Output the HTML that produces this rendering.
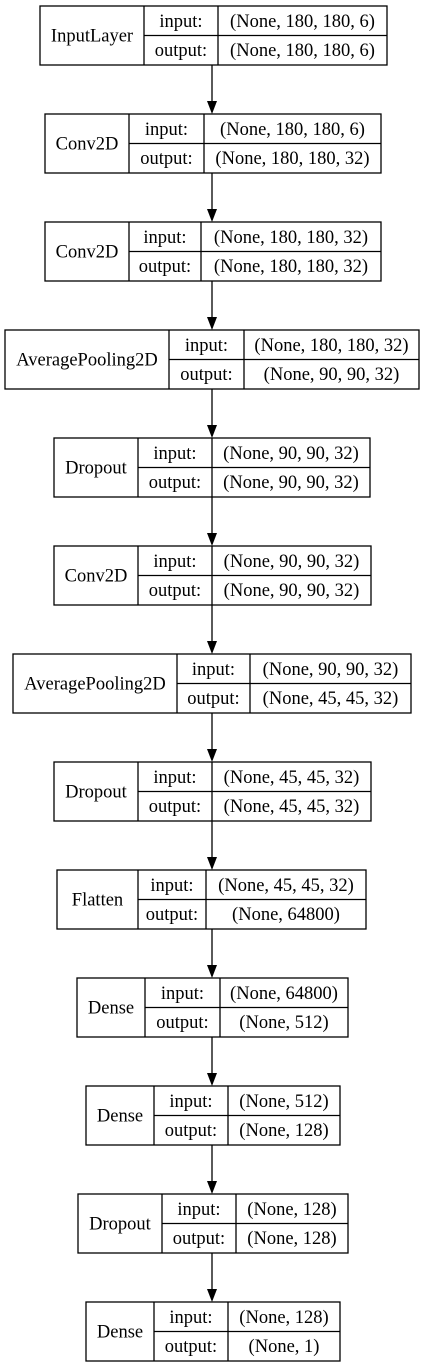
<!DOCTYPE html>
<html><head><meta charset="utf-8"><style>
html,body{margin:0;padding:0;background:#fff;}
svg{display:block;}
text{font-family:"Liberation Serif",serif;font-size:18.5px;fill:#000;}
</style></head><body>
<svg id="g" width="426" height="1367" viewBox="0 0 426 1367">
</svg>
<script>
const layerNames=["InputLayer","Conv2D","Conv2D","AveragePooling2D","Dropout","Conv2D","AveragePooling2D","Dropout","Flatten","Dense","Dense","Dropout","Dense"];
const inputShapes=["(None, 180, 180, 6)","(None, 180, 180, 6)","(None, 180, 180, 32)","(None, 180, 180, 32)","(None, 90, 90, 32)","(None, 90, 90, 32)","(None, 90, 90, 32)","(None, 45, 45, 32)","(None, 45, 45, 32)","(None, 64800)","(None, 512)","(None, 128)","(None, 128)"];
const outputShapes=["(None, 180, 180, 6)","(None, 180, 180, 32)","(None, 180, 180, 32)","(None, 90, 90, 32)","(None, 90, 90, 32)","(None, 90, 90, 32)","(None, 45, 45, 32)","(None, 45, 45, 32)","(None, 64800)","(None, 512)","(None, 128)","(None, 128)","(None, 1)"];
const geo=[[40,144,218,387],[45,129,204,381],[45,129,201,381],[5,169,244,419],[54,138,212,370],[54,138,212,371],[13,177,250,411],[54,138,212,371],[57,138,206,366],[77,145,220,348],[86,154,228,340],[78,162,236,348],[86,154,228,340]];
const svg=document.getElementById('g');
const NS='http://www.w3.org/2000/svg';
function mk(t,a,p){const e=document.createElementNS(NS,t);for(const k in a)e.setAttribute(k,a[k]);(p||svg).appendChild(e);return e;}
function tx(x,y,s,p){const e=mk('text',{x:x,y:y,'text-anchor':'middle'},p);e.textContent=s;return e;}
const top0=6,pitch=108,h=59;
layerNames.forEach((n,i)=>{
  const y=top0+i*pitch,[x0,d1,d2,x1]=geo[i],m=y+h/2;
  const g=mk('g',{});
  
  
  mk('rect',{x:x0,y:y,width:x1-x0,height:h,fill:'#fff',stroke:'#000','stroke-width':1.3},g);
  mk('line',{x1:d1,y1:y,x2:d1,y2:y+h,stroke:'#000','stroke-width':1.3},g);
  mk('line',{x1:d2,y1:y,x2:d2,y2:y+h,stroke:'#000','stroke-width':1.3},g);
  mk('line',{x1:d1,y1:m,x2:x1,y2:m,stroke:'#000','stroke-width':1.3},g);
  const t1=tx((x0+d1)/2,m+6,n,g);
  
  
  const t2=tx((d1+d2)/2,y+21,'input:',g);
  
  
  const t3=tx((d1+d2)/2,y+50,'output:',g);
  
  
  const t4=tx((d2+x1)/2,y+21,inputShapes[i],g);
  
  
  const t5=tx((d2+x1)/2,y+50,outputShapes[i],g);
  
  
  if(i<layerNames.length-1){
    const ya=y+h, yb=y+pitch;
    const a=mk('g',{});
    
    
    mk('line',{x1:212,y1:ya,x2:212,y2:yb-13,stroke:'#000','stroke-width':1.3},a);
    mk('polygon',{points:`207,${yb-13} 217,${yb-13} 212,${yb}`,fill:'#000'},a);
  }
});
</script>
</body></html>
